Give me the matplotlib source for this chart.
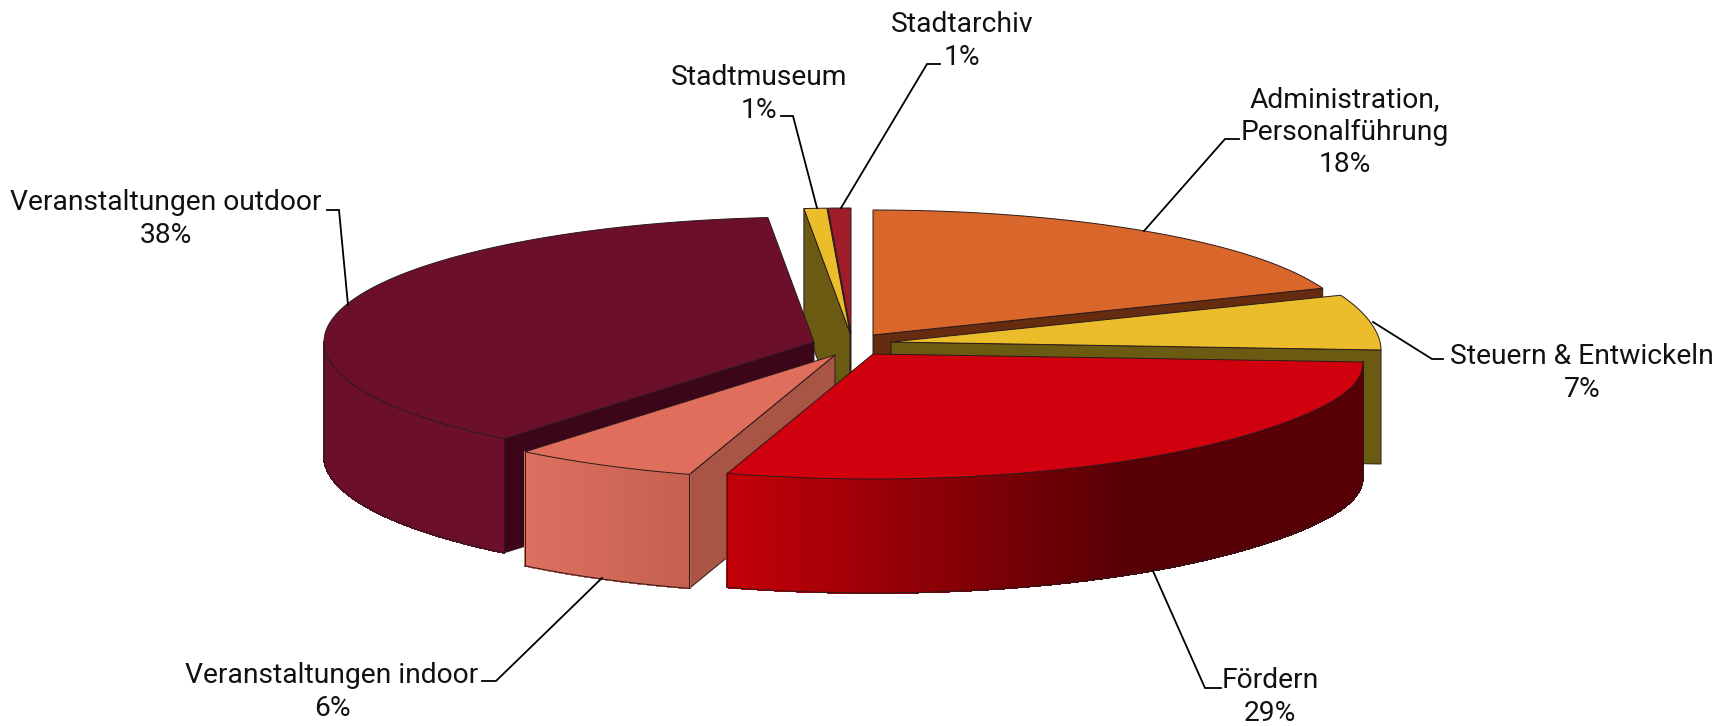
import numpy as np
import matplotlib as mpl
mpl.use('Agg')
import matplotlib.pyplot as plt
from matplotlib.colors import to_rgb

names = ["Administration,\nPersonalführung", "Steuern & Entwickeln", "Fördern",
         "Veranstaltungen indoor", "Veranstaltungen outdoor", "Stadtmuseum", "Stadtarchiv"]
shares = [18.5, 6.5, 29.8, 6.1, 37.6, 0.75, 0.75]
pct_labels = ["18%", "7%", "29%", "6%", "38%", "1%", "1%"]

top_colors = ["#D9662B", "#EBBD2A", "#D1000F", "#DF6F5C", "#6C0F2B", "#EBBD2A", "#A01C28"]
face_colors = ["#662C10", "#6B5A12", "#7A0008", "#A85546", "#3C0519", "#6B5A12", "#5A1018"]
# outer wall colour goes from left to right: (colour, colour, x where it stops changing)
wall_colors = [("#D9662B", "#D9662B", 1), ("#6B5A12", "#6B5A12", 1), ("#C40008", "#570005", 0.62),
               ("#DD7060", "#C4604F", 1), ("#6C0F2B", "#6C0F2B", 1), ("#6B5A12", "#6B5A12", 1),
               ("#5A1018", "#5A1018", 1)]

# pie geometry in image pixels
RX, RY, DEPTH, TILT = 490, 125, 114, 8
apexes = [(873, 335), (891, 342), (873, 354), (835, 355), (814, 342), (850, 333), (851, 333)]
draw_order = [6, 5, 4, 0, 1, 3, 2]

# label text centre and leader polyline per slice
label_pos = [(1345, 132), (1582, 373), (1270, 697), (332, 692), (166, 219), (759, 94), (962, 41)]
leaders = [[(1239, 139), (1225, 139), (1144, 231)],
           [(1373, 322), (1432, 359), (1443, 359)],
           [(1221, 688), (1205, 688), (1153, 571)],
           [(482, 681), (496, 681), (602, 578)],
           [(327, 210), (339, 210), (348, 305)],
           [(781, 116), (793, 116), (817, 208)],
           [(940, 64), (927, 64), (841, 208)]]

plt.rcParams['font.family'] = ['Roboto', 'DejaVu Sans']

EDGE = "#2a1a1a"


def project(apex, theta):
    u, v = np.sin(theta), -np.cos(theta)
    return apex[0] + RX * u, apex[1] + RY * v + TILT * np.maximum(u, 0) ** 12


def draw_slice(ax, i, a0, a1, z):
    apex = apexes[i]
    base = apex[1]
    th = np.linspace(a0, a1, 160)
    xs, ys = project(apex, th)

    # radial faces, only those turned to the viewer
    x0, y0 = project(apex, a0)
    x1, y1 = project(apex, a1)
    if np.sin(a0) < 0:
        ax.fill([apex[0], x0, x0, apex[0]], [base, y0, y0 + DEPTH, base + DEPTH],
                fc=face_colors[i], ec=EDGE, lw=0.7, zorder=z)
    if np.sin(a1) > 0:
        ax.fill([apex[0], x1, x1, apex[0]], [base, y1, y1 + DEPTH, base + DEPTH],
                fc=face_colors[i], ec=EDGE, lw=0.7, zorder=z)

    # outer wall, drawn as thin strips so it can carry the gradient
    w0, w1 = max(a0, np.pi / 2), min(a1, 3 * np.pi / 2)
    if w1 > w0:
        tw = np.linspace(w0, w1, 200)
        wx, wy = project(apex, tw)
        c_a, c_b, stop = wall_colors[i]
        c_a, c_b = np.array(to_rgb(c_a)), np.array(to_rgb(c_b))
        left, right = wx.min(), wx.max()
        for k in range(len(tw) - 1):
            t = min(((wx[k] + wx[k + 1]) / 2 - left) / (right - left) / stop, 1)
            col = c_a + (c_b - c_a) * t
            ax.fill([wx[k], wx[k + 1], wx[k + 1], wx[k]],
                    [wy[k], wy[k + 1], wy[k + 1] + DEPTH, wy[k] + DEPTH],
                    fc=col, ec=col, lw=0.8, antialiased=False, zorder=z)
        ax.plot(wx, wy + DEPTH, color=EDGE, lw=0.7, zorder=z)
        ax.plot([wx[0], wx[0]], [wy[0], wy[0] + DEPTH], color=EDGE, lw=0.7, zorder=z)
        ax.plot([wx[-1], wx[-1]], [wy[-1], wy[-1] + DEPTH], color=EDGE, lw=0.7, zorder=z)

    # top surface
    ax.fill(np.r_[apex[0], xs], np.r_[base, ys], fc=top_colors[i], ec=EDGE, lw=0.7, zorder=z)


def main():
    fig = plt.figure(figsize=(17.34, 7.26), dpi=100)
    ax = fig.add_axes([0, 0, 1, 1])
    ax.set_xlim(0, 1734)
    ax.set_ylim(726, 0)
    ax.axis('off')

    edges = np.r_[0, np.cumsum(shares)] / np.sum(shares) * 2 * np.pi
    for z, i in enumerate(draw_order):
        draw_slice(ax, i, edges[i], edges[i + 1], z + 2)

    for i, name in enumerate(names):
        xs, ys = zip(*leaders[i])
        ax.plot(xs, ys, color='black', lw=1.3, zorder=20, solid_joinstyle='miter')
        ax.text(label_pos[i][0], label_pos[i][1], name + "\n" + pct_labels[i], ha='center', va='center',
                fontsize=20.3, color='#111111', linespacing=1.24, zorder=21)

    fig.savefig("out.png", dpi=100)


if __name__ == "__main__":
    main()
